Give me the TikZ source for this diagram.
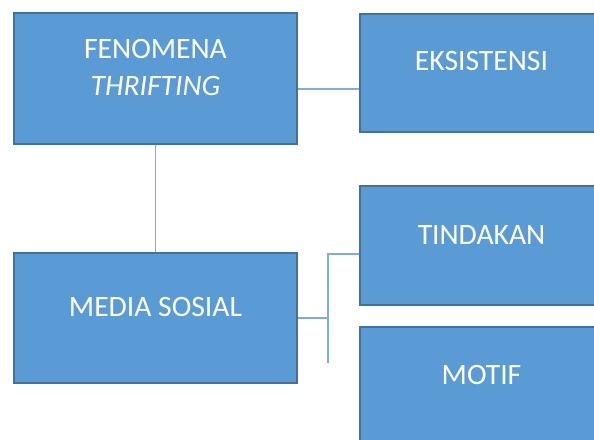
\documentclass[tikz,border=0pt]{standalone}
\usepackage{fontspec}
\setmainfont{Carlito}
\usetikzlibrary{calc}
\definecolor{boxfill}{HTML}{5B9BD5}
\definecolor{boxline}{HTML}{41719C}
\definecolor{conn}{RGB}{125,172,224}
\tikzset{
  blockbox/.style={draw=boxline, line width=2pt, fill=boxfill, rectangle, inner sep=0pt},
  boxtext/.style={text=white, font=\fontsize{29.6}{37}\selectfont, anchor=base, inner sep=0pt},
  connline/.style={draw=conn, line width=1.3pt}
}
\begin{document}
\begin{tikzpicture}[x=1pt, y=-1pt]
\useasboundingbox (0,0) rectangle (594,439);
\clip (0,0) rectangle (594,439);
% boxes
\node[blockbox, minimum width=283pt, minimum height=131pt] (fen) at (155.5,78.5) {};
\node[blockbox, minimum width=243pt, minimum height=118.5pt] (eks) at (481.5,72.75) {};
\node[blockbox, minimum width=283pt, minimum height=130pt] (med) at (155.5,318) {};
\node[blockbox, minimum width=243pt, minimum height=118.7pt] (tin) at (481.5,245.3) {};
\node[blockbox, minimum width=243pt, minimum height=118.7pt] (mot) at (481.5,386.3) {};
% texts
\node[boxtext] (fent1) at ([yshift=-46.3pt]fen.north) {FENOMENA};
\node[boxtext] (fent2) at ([yshift=-83.7pt]fen.north) {\itshape THRIFTING};
\node[boxtext] (ekst) at ([yshift=-58pt]eks.north) {EKSISTENSI};
\node[boxtext] (medt) at ([yshift=-64pt]med.north) {MEDIA SOSIAL};
\node[boxtext] (tint) at ([yshift=-60pt]tin.north) {TINDAKAN};
\node[boxtext] (mott) at ([yshift=-59pt]mot.north) {MOTIF};
% connectors
\coordinate (fa) at ($(fen.east)+(0,10.5)$);
\draw[connline] (fa) -- (fa -| eks.west);
\draw[connline] (fen.south) -- (med.north);
\coordinate (jt) at (328,254);
\coordinate (jb) at (328,363);
\draw[connline] (med.east) -- (med.east -| jt);
\draw[connline] (jb) -- (jt) -- (jt -| tin.west);
\end{tikzpicture}
\end{document}
